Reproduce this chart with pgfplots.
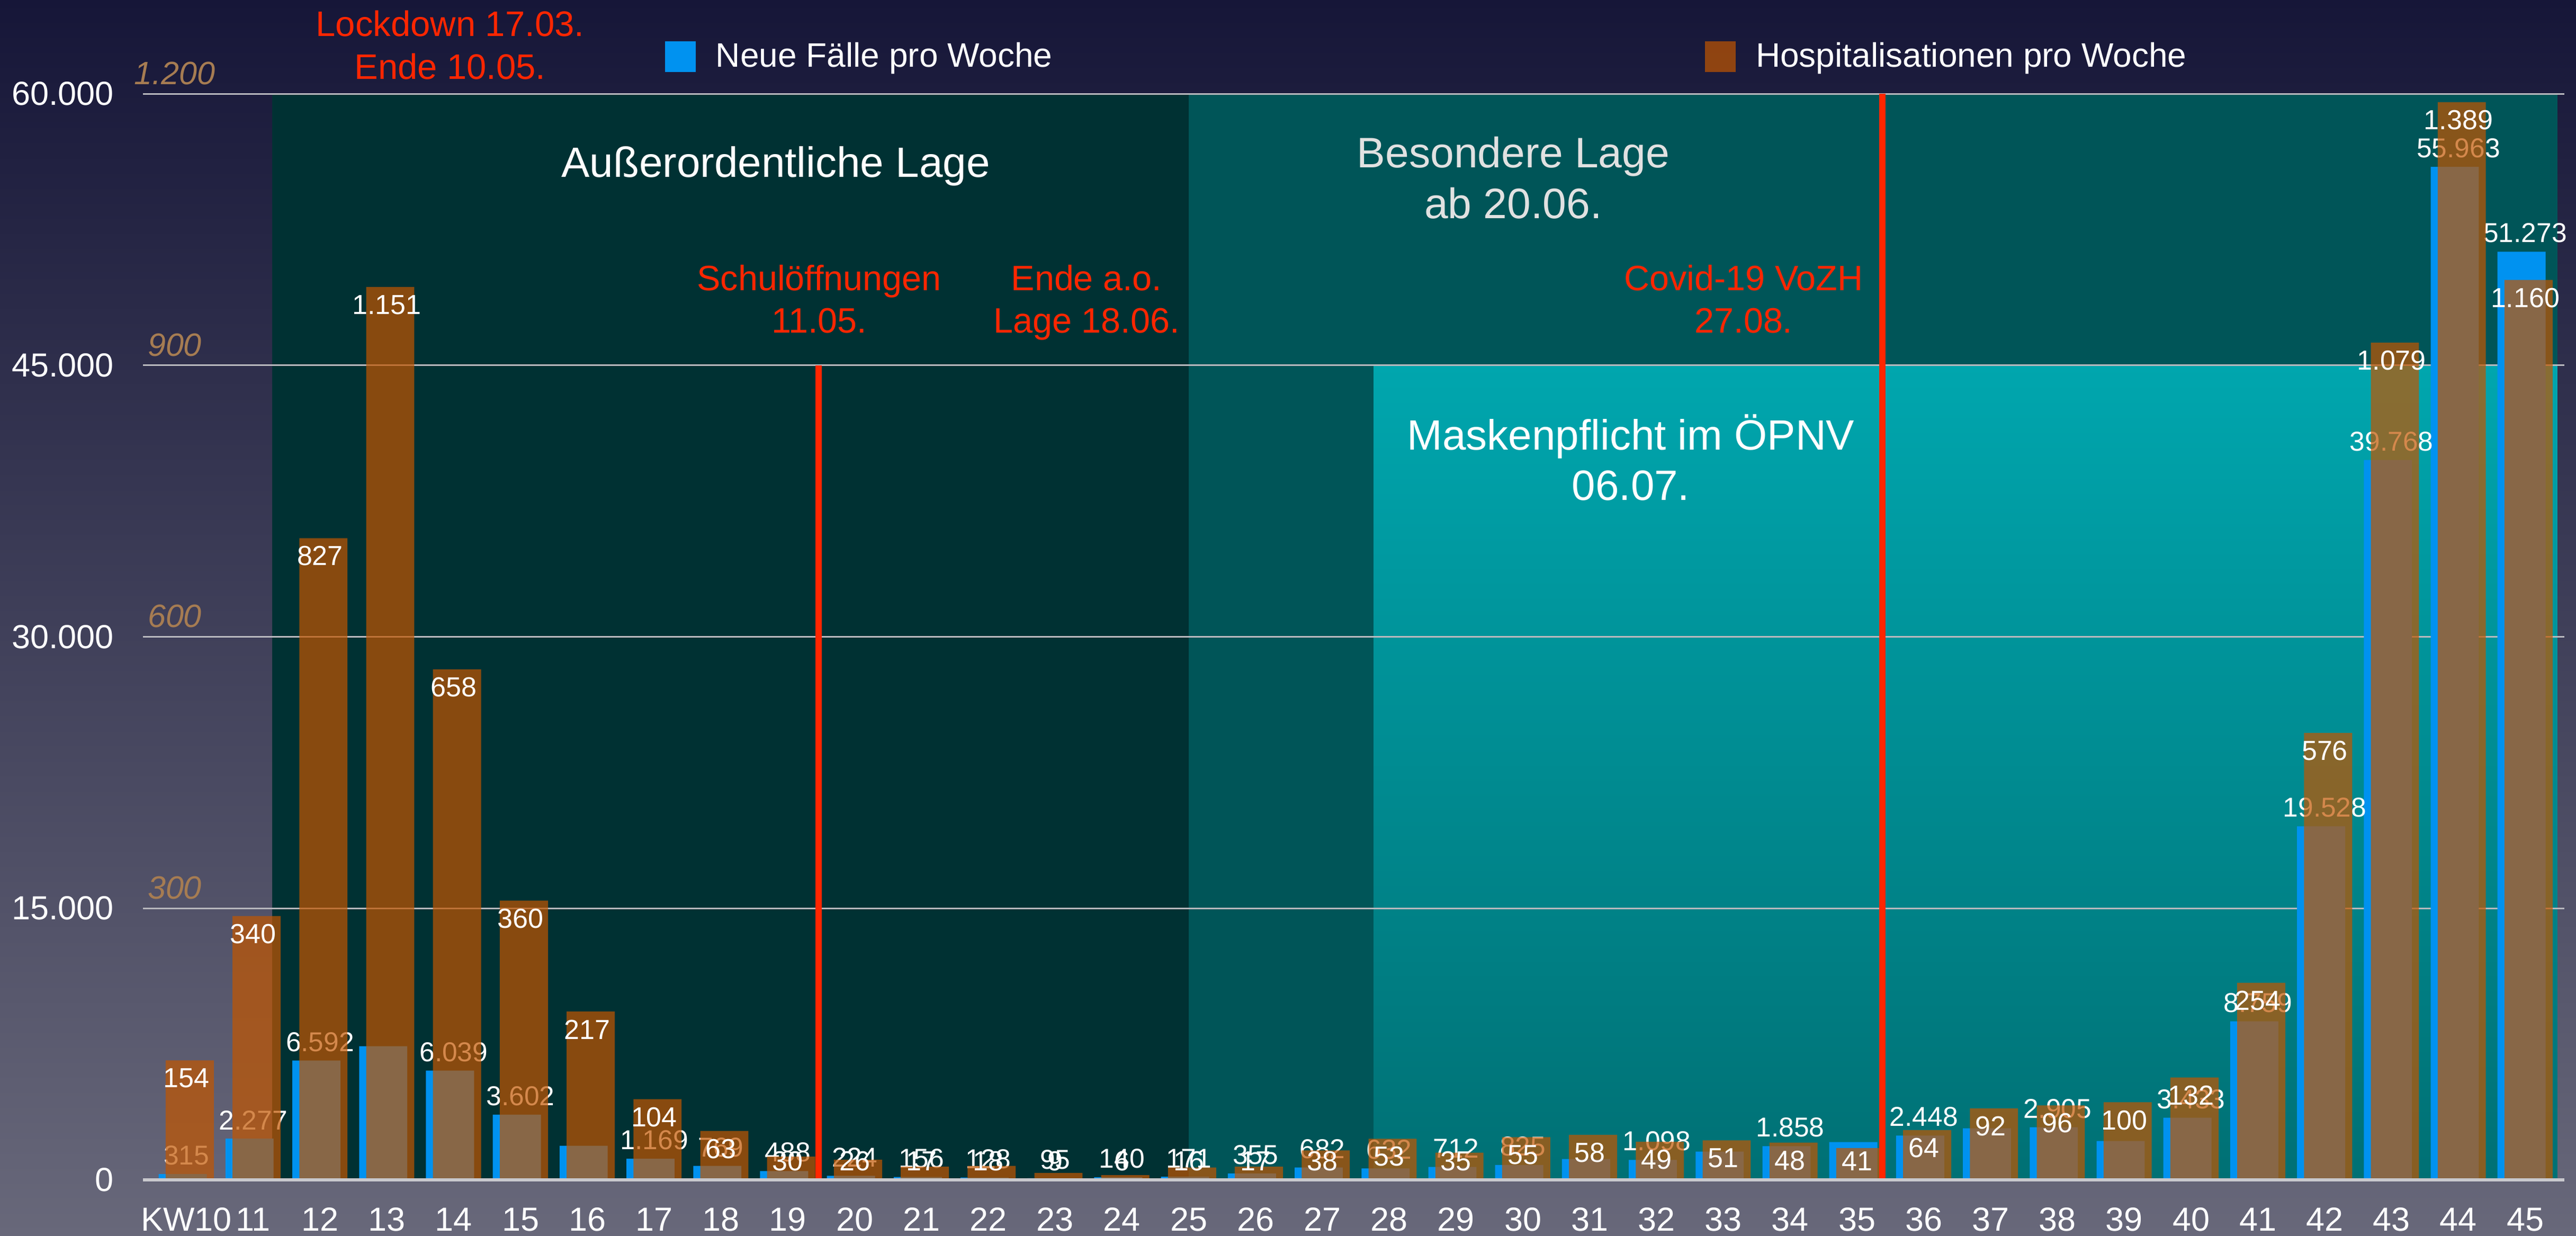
\documentclass[border=0pt]{standalone}
\usepackage{pgfplots}
\usepackage{pgfplotstable}
\pgfplotsset{compat=1.18}
\usepackage{fontspec}
\setmainfont{Liberation Sans}
\newcommand\fs[2]{\fontsize{#1}{#2}\selectfont}
\definecolor{cblue}{RGB}{0,146,240}
\definecolor{cbrown}{RGB}{194,86,0}
\definecolor{cAO}{RGB}{0,49,51}
\definecolor{cBL}{RGB}{0,85,88}
\definecolor{cMtop}{RGB}{0,166,174}
\definecolor{cMbot}{RGB}{0,112,116}
\definecolor{cgrid}{RGB}{185,185,190}
\definecolor{cbase}{RGB}{200,200,205}
\definecolor{cred}{RGB}{255,38,0}
\definecolor{cgold}{RGB}{166,124,82}
\definecolor{bgtop}{RGB}{22,22,56}
\definecolor{bgmid}{RGB}{63,63,90}
\definecolor{bgbot}{RGB}{104,104,122}
\definecolor{clight}{RGB}{225,225,225}

\pgfplotstableread{
x blue brown hl
0 315 154 154
1 2277 340 340
2 6592 827 827
3 7380 1151 1.151
4 6039 658 658
5 3602 360 360
6 1880 217 217
7 1169 104 104
8 769 63 63
9 488 30 30
10 224 26 26
11 156 17 17
12 128 18 18
13 95 9 9
14 140 6 6
15 171 16 16
16 355 17 17
17 682 38 38
18 632 53 53
19 712 35 35
20 825 55 55
21 1150 58 58
22 1098 49 49
23 1565 51 51
24 1858 48 48
25 2090 41 41
26 2448 64 64
27 2850 92 92
28 2905 96 96
29 2150 100 100
30 3433 132 132
31 8759 254 254
32 19528 576 576
33 39768 1079 1.079
34 55963 1389 1.389
35 51273 1160 1.160
}\data

\pgfplotstableread{
x v l
0 315 315
1 2277 2.277
2 6592 6.592
4 6039 6.039
5 3602 3.602
7 1169 1.169
8 769 769
9 488 488
10 224 224
11 156 156
12 128 128
13 95 95
14 140 140
15 171 171
16 355 355
17 682 682
18 632 632
19 712 712
20 825 825
22 1098 1.098
24 1858 1.858
26 2448 2.448
28 2905 2.905
30 3433 3.433
31 8759 8.759
32 19528 19.528
33 39768 39.768
34 55963 55.963
35 51273 51.273
}\bluelab

\pgfplotsset{
  common/.style={
    at={(54bp,21.2bp)}, anchor=south west, scale only axis,
    width=914.6bp, height=410.2bp,
    xmin=-0.65, xmax=35.586, ymin=0, enlargelimits=false,
    axis line style={draw=none}, major tick length=0pt, minor tick num=0,
    clip=false, scaled y ticks=false,
  },
  sqlegend/.style={legend image code/.code={\fill[##1] (0bp,-5.8bp) rectangle (11.6bp,5.8bp);}},
}

\begin{document}
\begin{tikzpicture}
\useasboundingbox (0,0) rectangle (973bp,466.8bp);
\shade[top color=bgtop, middle color=bgmid, bottom color=bgbot] (0,0) rectangle (973bp,466.8bp);

\begin{axis}[common, ymax=60000,
  xtick={0,...,35},
  xticklabels={KW10,11,12,13,14,15,16,17,18,19,20,21,22,23,24,25,26,27,28,29,30,31,32,33,34,35,36,37,38,39,40,41,42,43,44,45},
  ytick={0,15000,30000,45000,60000},
  yticklabels={0,15.000,30.000,45.000,60.000},
  ticklabel style={font=\fs{12.6bp}{15bp}, text=white, inner sep=0pt},
  yticklabel style={anchor=east, xshift=-10.8bp},
  xticklabel style={anchor=north, yshift=-10.4bp},
]
\fill[cAO] (axis cs:1.287,0) rectangle (axis cs:15,60000);
\fill[cBL] (axis cs:15,0) rectangle (axis cs:35.48,60000);
\shade[top color=cMtop, bottom color=cMbot] (axis cs:17.77,0) rectangle (axis cs:35.48,45000);
\draw[cgrid, line width=0.6bp] (axis cs:-0.65,15000) -- (axis cs:35.586,15000);
\draw[cgrid, line width=0.6bp] (axis cs:-0.65,30000) -- (axis cs:35.586,30000);
\draw[cgrid, line width=0.6bp] (axis cs:-0.65,45000) -- (axis cs:35.586,45000);
\draw[cgrid, line width=0.6bp] (axis cs:-0.65,60000) -- (axis cs:35.586,60000);

\addplot[ybar, bar width=0.72, bar shift=-0.055, fill=cblue, draw=none]
  table[x=x, y=blue] {\data};
\addplot[ybar, bar width=0.72, bar shift=-0.055, draw=none, fill=none,
  nodes near coords, point meta=explicit symbolic,
  every node near coord/.style={anchor=south, inner sep=0pt, yshift=3.2bp,
    text=white, font=\fs{10.3bp}{12bp}}]
  table[x=x, y=v, meta=l] {\bluelab};
\end{axis}

\begin{axis}[common, ymax=1400,
  xtick=\empty,
  ytick={350,700,1050,1400},
  yticklabels={300,600,900,1.200},
  yticklabel style={anchor=south, xshift=12bp, yshift=3.2bp, inner sep=0pt,
    font=\fs{12.2bp}{14bp}\itshape, text=cgold},
  sqlegend,
  legend style={at={(0.2156,1.034)}, anchor=west, draw=none, fill=none,
    inner sep=0pt, outer sep=0pt, legend columns=2,
    font=\fs{12.8bp}{15bp}, text=white, nodes={inner sep=0pt},
    /tikz/every odd column/.style={column sep=7.6bp},
    /tikz/every even column/.style={column sep=246.5bp}},
]
\addlegendimage{fill=cblue, draw=none, sqlegend}
\addlegendentry{Neue Fälle pro Woche}
\addplot[ybar, bar width=0.72, bar shift=0.05, fill=cbrown, fill opacity=0.7, draw=none, sqlegend]
  table[x=x, y=brown] {\data};
\addlegendentry{Hospitalisationen pro Woche}
\addplot[forget plot, ybar, bar width=0.72, bar shift=0.05, draw=none, fill=none,
  nodes near coords, point meta=explicit symbolic,
  every node near coord/.style={anchor=south, inner sep=0pt,
    text=white, font=\fs{10.4bp}{12bp}}]
  table[x=x, y expr={max(\thisrow{brown}-36.2,11)}, meta=hl] {\data};
\draw[cred, line width=2.4bp] (axis cs:9.464,0) -- (axis cs:9.464,1050);
\draw[cred, line width=2.4bp] (axis cs:25.38,0) -- (axis cs:25.38,1400);
\draw[cbase, line width=1.2bp] (axis cs:-0.65,0) -- (axis cs:35.586,0);
\end{axis}

\node[anchor=base, text=cred, font=\fs{13.4bp}{16bp}] at (170bp,453bp) {Lockdown 17.03.};
\node[anchor=base, text=cred, font=\fs{13.4bp}{16bp}] at (170bp,436.8bp) {Ende 10.05.};
\node[anchor=base, text=white, font=\fs{16bp}{19bp}] at (293bp,399.8bp) {Außerordentliche Lage};
\node[anchor=base, text=clight, font=\fs{16.1bp}{19bp}] at (571.6bp,403.4bp) {Besondere Lage};
\node[anchor=base, text=clight, font=\fs{16.1bp}{19bp}] at (571.6bp,384.2bp) {ab 20.06.};
\node[anchor=base, text=cred, font=\fs{13.3bp}{16bp}] at (309.4bp,357bp) {Schulöffnungen};
\node[anchor=base, text=cred, font=\fs{13.3bp}{16bp}] at (309.4bp,341bp) {11.05.};
\node[anchor=base, text=cred, font=\fs{13.3bp}{16bp}] at (410.4bp,357bp) {Ende a.o.};
\node[anchor=base, text=cred, font=\fs{13.3bp}{16bp}] at (410.4bp,341bp) {Lage 18.06.};
\node[anchor=base, text=cred, font=\fs{13.3bp}{16bp}] at (658.6bp,357bp) {Covid-19 VoZH};
\node[anchor=base, text=cred, font=\fs{13.3bp}{16bp}] at (658.6bp,341bp) {27.08.};
\node[anchor=base, text=white, font=\fs{16bp}{19bp}] at (616bp,296.8bp) {Maskenpflicht im ÖPNV};
\node[anchor=base, text=white, font=\fs{16bp}{19bp}] at (616bp,277.8bp) {06.07.};
\end{tikzpicture}
\end{document}
